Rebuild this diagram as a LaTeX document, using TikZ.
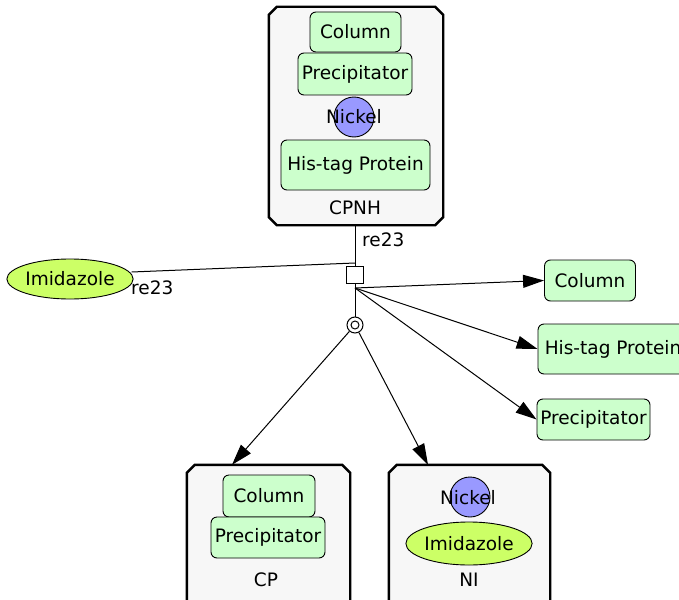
\documentclass[tikz,border=0pt]{standalone}
\usepackage{fontspec}
\setmainfont{DejaVu Sans}
\usetikzlibrary{shapes.geometric,arrows.meta,calc}
\definecolor{spgreen}{HTML}{CCFFCC}
\definecolor{spyellow}{HTML}{CCFF66}
\definecolor{spblue}{HTML}{9999FF}
\definecolor{cxfill}{HTML}{F7F7F7}
\tikzset{
  txt/.style={font=\fontsize{18.5}{20}\selectfont},
  cx/.style={inner sep=0pt},
  cxline/.style={line width=2.4pt, fill=cxfill, line join=miter},
  prot/.style={txt, draw, line width=0.9pt, fill=spgreen, rounded corners=6pt, inner sep=0pt},
  ion/.style={txt, draw, line width=0.9pt, fill=spblue, circle, minimum size=40pt, inner sep=0pt},
  simp/.style={txt, draw, line width=0.9pt, fill=spyellow, ellipse, inner sep=0pt},
  lbl/.style={txt, inner sep=0pt},
  edge/.style={line width=1pt},
  arr/.style={line width=1pt, -{Triangle[length=21pt,width=13pt]}},
}
\newcommand{\chamf}[1]{%
  \filldraw[cxline] ($(#1.north west)+(8,0)$) -- ($(#1.north east)+(-8,0)$) -- ($(#1.north east)+(0,8)$)
    -- ($(#1.south east)+(0,-8)$) -- ($(#1.south east)+(-8,0)$) -- ($(#1.south west)+(8,0)$)
    -- ($(#1.south west)+(0,-8)$) -- ($(#1.north west)+(0,8)$) -- cycle;}
\begin{document}
\begin{tikzpicture}[x=1pt,y=-1pt]
\useasboundingbox (0,0) rectangle (679,599);
\clip (0,0) rectangle (679,599);
% CPNH complex
\node[cx, minimum width=174pt, minimum height=218pt] (cpnh) at (356,116) {};
\chamf{cpnh}
\node[prot, minimum width=91pt, minimum height=40pt] (c1col) at (355.5,32) {Column};
\node[prot, minimum width=114pt, minimum height=42pt] (c1pre) at (355,74) {Precipitator};
\node[ion] (c1ni) at (354,117) {};
\node[lbl] (c1nit) at (354,117) {Nickel};
\node[prot, minimum width=149pt, minimum height=50pt] (c1his) at (355.5,165) {His-tag Protein};
\node[lbl] (c1lab) at (355,208) {CPNH};
% reaction
\node[draw, line width=1pt, fill=white, minimum size=17pt, inner sep=0pt] (sq) at (355,275) {};
\coordinate (join) at (355,263);
\coordinate (fan) at (355,288);
\node[draw, circle, line width=1pt, fill=white, minimum size=16pt, inner sep=0pt] (dc) at (355,325) {};
\node[draw, circle, line width=1pt, minimum size=8pt, inner sep=0pt] (dci) at (355,325) {};
\node[lbl, anchor=west] (re1) at (362,240) {re23};
\node[lbl, anchor=west] (re2) at (131,288) {re23};
% Imidazole left
\node[simp, minimum width=118pt, minimum height=40pt] (imid) at (70,279) {Imidazole};
% right products
\node[prot, minimum width=91pt, minimum height=41pt] (rcol) at (590,280.5) {Column};
\node[prot, minimum width=150pt, minimum height=50pt] (rhis) at (613,349) {His-tag Protein};
\node[prot, minimum width=113pt, minimum height=41pt] (rpre) at (593.5,419.5) {Precipitator};
% CP complex
\node[cx, minimum width=163pt, minimum height=150pt] (cp) at (268.5,540) {};
\chamf{cp}
\node[prot, minimum width=92pt, minimum height=42pt] (c2col) at (269,496) {Column};
\node[prot, minimum width=114pt, minimum height=41pt] (c2pre) at (268,537.5) {Precipitator};
\node[lbl] (c2lab) at (266,580) {CP};
% NI complex
\node[cx, minimum width=161pt, minimum height=150pt] (ni) at (469.5,540) {};
\chamf{ni}
\node[ion] (c3ni) at (470,497) {};
\node[lbl] (c3nit) at (468,498) {Nickel};
\node[simp, minimum width=117pt, minimum height=43pt] (c3im) at (469,543.5) {Imidazole};
\node[lbl] (c3lab) at (469,580) {NI};
% connectors
\draw[edge] (cpnh.south -| sq.north) -- (sq.north);
\draw[edge] (imid.east) ++(-2,-7) coordinate (imr) -- (join);
\draw[edge] (sq.south) -- (dc.north);
\draw[arr] (fan) -- (rcol.west);
\draw[arr] (fan) -- (rhis.west);
\draw[arr] (fan) -- (rpre.west);
\draw[arr] (dc) -- (cp.north -| 232,0);
\draw[arr] (dc) -- (ni.north -| 428,0);
\end{tikzpicture}
\end{document}
